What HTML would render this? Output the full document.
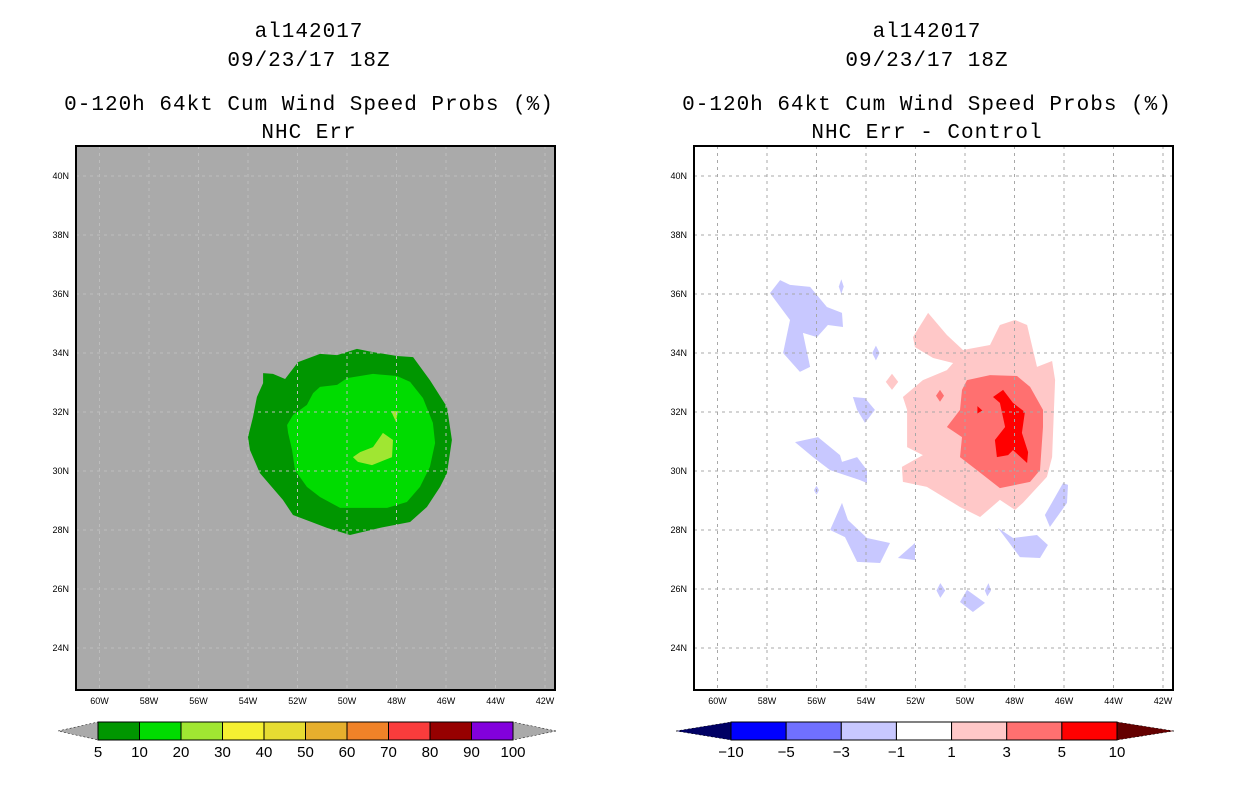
<!DOCTYPE html>
<html><head><meta charset="utf-8"><style>
body{margin:0;background:#fff;}
svg{display:block;font-family:"Liberation Sans",sans-serif;}
.t{font-family:"Liberation Mono",monospace;font-size:21px;letter-spacing:1px;text-anchor:middle;fill:#000;}
.tk{font-size:9px;fill:#000;}
.cb{font-size:15px;text-anchor:middle;fill:#000;}
</style></head><body>
<svg id="s" width="1236" height="800" viewBox="0 0 1236 800" xmlns="http://www.w3.org/2000/svg">
<g>
<text class="t" x="309" y="37">al142017</text>
<text class="t" x="309" y="66">09/23/17 18Z</text>
<text class="t" x="309" y="110">0-120h 64kt Cum Wind Speed Probs (%)</text>
<text class="t" x="309" y="138">NHC Err</text>
</g>
<g>
<text class="t" x="927" y="37">al142017</text>
<text class="t" x="927" y="66">09/23/17 18Z</text>
<text class="t" x="927" y="110">0-120h 64kt Cum Wind Speed Probs (%)</text>
<text class="t" x="927" y="138">NHC Err - Control</text>
</g>
<g id="L"></g>
<g id="R"></g>
<g id="CB"></g>
</svg>
<script>
const lonTicks=[-60,-58,-56,-54,-52,-50,-48,-46,-44,-42];
const lonLabels=["60W","58W","56W","54W","52W","50W","48W","46W","44W","42W"];
const latTicks=[40,38,36,34,32,30,28,26,24];
const latLabels=["40N","38N","36N","34N","32N","30N","28N","26N","24N"];
// left panel contours: [lon,lat]
const probOuter=[[-53.39,33.32],[-52.99,33.29],[-52.5,33.12],[-51.98,33.69],[-51.09,33.97],[-50.4,33.93],[-49.6,34.14],[-48.95,34.03],[-47.98,33.9],[-47.33,33.86],[-46.65,33.08],[-45.96,32.17],[-45.76,31.05],[-45.96,29.93],[-46.24,29.46],[-46.77,28.78],[-47.45,28.27],[-48.67,28.07],[-49.88,27.83],[-50.81,28.07],[-52.18,28.51],[-52.59,29.02],[-53.52,29.93],[-53.92,30.71],[-54.0,31.15],[-53.8,31.83],[-53.64,32.51],[-53.39,32.98]];
const probInner=[[-51.09,32.85],[-50.4,32.92],[-50.0,33.15],[-48.95,33.29],[-47.98,33.22],[-47.45,33.02],[-46.93,32.47],[-46.53,31.63],[-46.44,30.95],[-46.65,30.14],[-47.05,29.46],[-47.58,28.95],[-48.38,28.75],[-49.19,28.75],[-50.28,28.75],[-51.09,29.12],[-51.62,29.46],[-52.1,30.03],[-52.22,30.71],[-52.38,31.29],[-52.42,31.56],[-52.18,31.9],[-51.62,32.24],[-51.37,32.64]];
const prob20a=[[-49.76,30.47],[-49.47,30.64],[-48.95,30.81],[-48.55,31.29],[-48.14,31.05],[-48.18,30.47],[-48.99,30.2],[-49.56,30.31]];
const prob20b=[[-48.22,32.03],[-47.94,32.03],[-48.02,31.66]];
// right panel contours
const diffPink=[[-51.49,35.36],[-50.73,34.61],[-50.08,34.1],[-48.99,34.27],[-48.59,34.95],[-47.98,35.12],[-47.49,34.95],[-47.09,33.53],[-46.48,33.73],[-46.36,33.08],[-46.48,30.47],[-46.69,29.8],[-47.66,28.92],[-47.98,28.68],[-48.59,29.02],[-49.39,28.44],[-50.2,28.78],[-51.54,29.46],[-52.51,29.63],[-52.55,30.14],[-51.7,30.54],[-52.34,30.81],[-52.34,32.07],[-52.51,32.51],[-51.7,33.08],[-50.73,33.42],[-50.48,33.66],[-51.29,33.83],[-52.02,34.2],[-52.1,34.54]];
const diffSalmon=[[-49.92,33.08],[-48.99,33.25],[-47.9,33.22],[-47.37,32.85],[-46.85,32.07],[-46.85,31.49],[-46.97,30.03],[-47.37,29.63],[-48.59,29.42],[-49.52,30.03],[-50.2,30.47],[-50.12,31.15],[-50.73,31.49],[-50.2,32.07],[-50.12,32.75]];
const diffRed=[[-48.87,32.51],[-48.46,32.75],[-48.06,32.31],[-47.58,32.0],[-47.7,31.29],[-47.45,30.64],[-47.49,30.27],[-48.06,30.71],[-48.26,30.54],[-48.71,30.47],[-48.79,31.05],[-48.38,31.49],[-48.59,32.31]];
const diffBlue=[
[[-57.88,36.03],[-57.47,36.47],[-57.07,36.31],[-56.26,36.24],[-55.58,35.56],[-54.97,35.36],[-54.93,34.88],[-55.54,34.95],[-55.98,34.54],[-56.55,34.68],[-56.26,33.53],[-56.67,33.36],[-57.35,34.0],[-57.07,35.12]],
[[-54.53,32.51],[-54.04,32.47],[-53.64,32.07],[-54.04,31.63],[-54.36,32.07]],
[[-56.87,30.98],[-55.94,31.15],[-55.05,30.54],[-54.97,30.31],[-54.36,30.47],[-53.96,30.03],[-53.96,29.59],[-54.24,29.69],[-55.45,30.03],[-56.14,30.47]],
[[-54.97,28.92],[-54.73,28.34],[-53.96,27.73],[-53.03,27.56],[-53.43,26.88],[-54.36,26.92],[-54.85,27.76],[-55.45,28.0]],
[[-52.71,27.05],[-52.02,27.56],[-52.02,26.98]],
[[-48.67,28.07],[-48.06,27.73],[-47.09,27.83],[-46.65,27.49],[-46.97,27.05],[-47.78,27.08],[-48.3,27.66]],
[[-46.04,29.59],[-45.84,29.53],[-45.88,28.92],[-46.57,28.1],[-46.77,28.51]],
[[-50.2,25.56],[-49.92,25.97],[-49.19,25.53],[-49.68,25.22]],
[[-51.0,26.2],[-50.8,25.95],[-51.0,25.7],[-51.15,25.95]],
[[-49.05,26.2],[-48.95,25.95],[-49.1,25.75],[-49.2,25.95]],
[[-55.0,36.5],[-54.9,36.25],[-55.0,36.0],[-55.1,36.25]],
[[-53.6,34.25],[-53.45,34.0],[-53.6,33.75],[-53.75,34.0]],
[[-56.0,29.5],[-55.9,29.35],[-56.0,29.2],[-56.1,29.35]]
];
const diffSmallSalmon=[[-51.01,32.75],[-50.85,32.55],[-51.01,32.35],[-51.17,32.55]];
const diffSmallPink=[[-52.95,33.3],[-52.7,33.02],[-52.95,32.75],[-53.2,33.02]];
const diffSmallRed=[[-49.5,32.2],[-49.3,32.05],[-49.5,31.95]];
const probLevels=["5","10","20","30","40","50","60","70","80","90","100"];
const probColors=["#009600","#00dc00","#a0e632","#f5f032","#e6dc32","#e6af2d","#f08228","#fa3c3c","#960000","#8200dc"];
const diffLevels=["-10","-5","-3","-1","1","3","5","10"];
const diffColors=["#0000ff","#7070ff","#c8c8ff","#ffffff","#ffc8c8","#ff7070","#ff0000"];

const NS="http://www.w3.org/2000/svg";
function mk(p,tag,at){const e=document.createElementNS(NS,tag);for(const k in at)e.setAttribute(k,at[k]);p.appendChild(e);return e;}
const LAT0=30,LATY=471,LATS=29.5,LON0=-50,LONS=24.75;
function xs(off){return lon=>off+(lon-LON0)*LONS;}
function ys(lat){return LATY-(lat-LAT0)*LATS;}
function poly(g,X,pts,fill,name){
  const e=mk(g,'polygon',{points:pts.map(p=>X(p[0]).toFixed(1)+','+ys(p[1]).toFixed(1)).join(' '),fill:fill});
  
  
}
function panel(g,off,bg,gridCol,draw,pfx){
  const X=xs(off);const L=76+(off-347), R=555+(off-347);
  mk(g,'rect',{x:L,y:146,width:R-L,height:544,fill:bg});
  draw(g,X);
  lonTicks.forEach((v,i)=>{
    const l=mk(g,'line',{x1:X(v),x2:X(v),y1:146,y2:690,stroke:gridCol,'stroke-width':1,'stroke-dasharray':'3,4'});
    
    
    const t=mk(g,'text',{x:X(v),y:704,'text-anchor':'middle',class:'tk'});t.textContent=lonLabels[i];
    
    
  });
  latTicks.forEach((v,i)=>{
    const l=mk(g,'line',{x1:L,x2:R,y1:ys(v),y2:ys(v),stroke:gridCol,'stroke-width':1,'stroke-dasharray':'3,4'});
    
    
    const t=mk(g,'text',{x:L-7,y:ys(v)+3,'text-anchor':'end',class:'tk'});t.textContent=latLabels[i];
    
    
  });
  const f=mk(g,'rect',{x:L,y:146,width:R-L,height:544,fill:'none',stroke:'#000','stroke-width':2});
  
  
}
panel(document.getElementById('L'),347,'#aaaaaa','#bdbdbd',(g,X)=>{
  poly(g,X,probOuter,probColors[0],'contour-5-10');
  poly(g,X,probInner,probColors[1],'contour-10-20');
  poly(g,X,prob20a,probColors[2],'contour-20-30');
  poly(g,X,prob20b,probColors[2],'contour-20-30-small');
},'left');
panel(document.getElementById('R'),965,'#ffffff','#a8a8a8',(g,X)=>{
  diffBlue.forEach(p=>poly(g,X,p,diffColors[2],'contour-neg-1-3'));
  poly(g,X,diffPink,diffColors[4],'contour-1-3');
  poly(g,X,diffSmallPink,diffColors[4],'contour-1-3-small');
  poly(g,X,diffSalmon,diffColors[5],'contour-3-5');
  poly(g,X,diffSmallSalmon,diffColors[5],'contour-3-5-small');
  poly(g,X,diffRed,diffColors[6],'contour-5-10');
  poly(g,X,diffSmallRed,diffColors[6],'contour-5-10-small');
},'right');
// colorbars
const cb=document.getElementById('CB');
function bar(x0,x1,tipL,tipR,cols,labs,cl,cr,name){
  const y0=722,y1=740,ym=731,w=(x1-x0)/cols.length;
  const a=mk(cb,'polygon',{points:`${tipL},${ym} ${x0},${y0} ${x0},${y1}`,fill:cl,stroke:'#000','stroke-width':0.5,'stroke-dasharray':'2,2'});
  
  
  const b=mk(cb,'polygon',{points:`${tipR},${ym} ${x1},${y0} ${x1},${y1}`,fill:cr,stroke:'#000','stroke-width':0.5,'stroke-dasharray':'2,2'});
  
  
  cols.forEach((c,i)=>{
    const r=mk(cb,'rect',{x:x0+i*w,y:y0,width:w,height:y1-y0,fill:c,stroke:'#000','stroke-width':1});
    
    
  });
  labs.forEach((l,i)=>{
    const t=mk(cb,'text',{x:x0+i*w,y:757,class:'cb'});t.textContent=l.replace('-','\u2212');
    
    
  });
}
bar(98,513,58,556,probColors,probLevels,'#aaaaaa','#aaaaaa','prob-colorbar');
bar(731,1117,676,1174,diffColors,diffLevels,'#000064','#640000','diff-colorbar');
</script>
</body></html>
